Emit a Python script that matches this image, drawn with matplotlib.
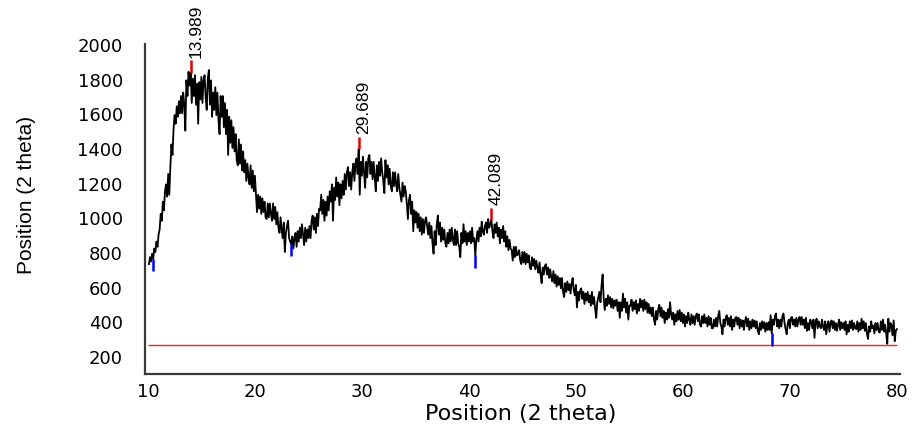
import numpy as np
import matplotlib.pyplot as plt

# XRD scan, 0.1 deg step starting at 10.089 (one row per degree)
start = 10.089
step = 0.1
counts = [
    730, 770, 745, 790, 760, 820, 800, 860, 830, 900,
    930, 1020, 980, 1090, 1040, 1150, 1190, 1120, 1250, 1130,
    1290, 1420, 1360, 1510, 1590, 1540, 1640, 1580, 1670, 1600,
    1700, 1600, 1720, 1650, 1500, 1790, 1700, 1840, 1760, 1835,
    1660, 1800, 1700, 1820, 1650, 1770, 1540, 1780, 1680, 1810,
    1660, 1790, 1820, 1690, 1620, 1800, 1850, 1650, 1790, 1580,
    1720, 1620, 1750, 1590, 1720, 1560, 1480, 1700, 1580, 1700,
    1520, 1660, 1480, 1620, 1360, 1580, 1430, 1560, 1400, 1520,
    1380, 1480, 1330, 1300, 1450, 1310, 1420, 1270, 1380, 1260,
    1330, 1210, 1310, 1230, 1190, 1300, 1170, 1270, 1150, 1240,
    1140, 1030, 1130, 1050, 1120, 1020, 1110, 1030, 1090, 1000,
    990, 1080, 1000, 1080, 1020, 980, 1080, 990, 1060, 960,
    1030, 940, 910, 1000, 930, 880, 970, 800, 910, 950,
    980, 880, 860, 845, 890, 820, 880, 910, 830, 920,
    860, 940, 880, 960, 900, 840, 940, 860, 930, 880,
    950, 880, 980, 1010, 930, 1000, 910, 1020, 950, 1050,
    1040, 1130, 1020, 1100, 980, 1090, 1010, 1120, 1040, 1150,
    1090, 1190, 980, 1170, 1100, 1230, 1120, 1200, 1070, 1190,
    1110, 1210, 1130, 1250, 1160, 1260, 1290, 1180, 1260, 1160,
    1260, 1310, 1210, 1310, 1340, 1250, 1394, 1130, 1320, 1240,
    1350, 1260, 1170, 1320, 1230, 1340, 1360, 1250, 1320, 1220,
    1320, 1230, 1150, 1300, 1210, 1320, 1240, 1340, 1260, 1210,
    1140, 1330, 1230, 1300, 1190, 1280, 1180, 1150, 1260, 1180,
    1260, 1190, 1150, 1250, 1170, 1130, 1090, 1200, 1120, 1180,
    1150, 1080, 990, 1100, 1130, 1020, 1090, 920, 1040, 970,
    1030, 940, 1020, 920, 1000, 900, 990, 910, 980, 1000,
    950, 900, 970, 880, 950, 850, 790, 920, 840, 960,
    1010, 900, 970, 860, 940, 870, 930, 850, 830, 910,
    850, 930, 860, 940, 870, 840, 930, 840, 920, 850,
    830, 770, 910, 850, 960, 860, 920, 840, 910, 860,
    920, 850, 940, 860, 880, 780, 870, 920, 860, 940,
    890, 975, 920, 900, 950, 970, 910, 990, 940, 960,
    985, 920, 880, 960, 910, 970, 890, 940, 850, 930,
    880, 950, 860, 920, 830, 890, 810, 870, 820, 810,
    750, 830, 770, 830, 780, 790, 810, 750, 730, 800,
    740, 800, 730, 790, 740, 780, 710, 700, 770, 720,
    760, 700, 750, 710, 680, 740, 670, 620, 710, 670,
    720, 730, 670, 710, 650, 700, 655, 630, 690, 620,
    670, 600, 660, 610, 650, 590, 650, 570, 540, 620,
    570, 630, 580, 615, 560, 620, 650, 580, 550, 610,
    480, 570, 520, 580, 590, 530, 570, 500, 560, 520,
    570, 510, 550, 490, 570, 500, 540, 470, 420, 510,
    540, 570, 510, 610, 670, 530, 465, 530, 490, 550,
    500, 540, 480, 530, 475, 520, 490, 525, 460, 510,
    420, 510, 460, 560, 480, 530, 450, 510, 410, 490,
    490, 525, 460, 510, 470, 520, 445, 500, 460, 530,
    480, 520, 460, 525, 470, 510, 450, 500, 445, 480,
    430, 480, 410, 380, 460, 410, 470, 495, 430, 480,
    420, 460, 390, 450, 410, 470, 420, 510, 440, 410,
    450, 380, 440, 400, 460, 410, 465, 400, 450, 390,
    440, 370, 430, 390, 450, 410, 380, 440, 390, 430,
    380, 430, 445, 400, 440, 380, 370, 430, 390, 440,
    390, 420, 370, 430, 380, 420, 360, 360, 410, 370,
    420, 370, 430, 460, 390, 370, 325, 410, 370, 420,
    435, 380, 420, 370, 430, 350, 410, 370, 420, 425,
    380, 420, 360, 410, 370, 405, 350, 400, 425, 370,
    415, 350, 400, 360, 410, 370, 405, 360, 400, 345,
    325, 390, 350, 400, 360, 395, 340, 390, 350, 395,
    350, 435, 330, 410, 380, 430, 445, 370, 410, 360,
    410, 370, 430, 445, 390, 355, 325, 390, 410, 360,
    420, 425, 380, 410, 370, 420, 370, 410, 425, 380,
    425, 380, 410, 360, 420, 345, 390, 350, 410, 395,
    360, 410, 305, 400, 415, 360, 400, 370, 360, 410,
    370, 350, 400, 325, 380, 400, 340, 390, 405, 360,
    400, 350, 390, 345, 380, 410, 350, 395, 360, 390,
    350, 400, 325, 380, 340, 400, 360, 405, 350, 390,
    360, 355, 400, 340, 390, 350, 415, 360, 400, 345,
    390, 330, 298, 370, 340, 400, 360, 375, 330, 390,
    350, 390, 340, 335, 400, 350, 410, 340, 380, 330,
    270, 415, 340, 390, 375, 320, 405, 285, 345, 355,
]
two_theta = start + step * np.arange(len(counts))
counts = np.array(counts, dtype=float)

# peak search results
peak_pos = [13.989, 29.689, 42.089]
bg_pos = [10.489, 23.389, 40.589, 68.289]
baseline = 263
baseline_range = [10, 80]

fig = plt.figure(figsize=(9.14, 4.31), dpi=100)
ax = fig.add_axes([145 / 914, 56 / 431, 755 / 914, 330 / 431])

ax.plot(two_theta, counts, color='black', lw=1.3)
ax.hlines(baseline, baseline_range[0], baseline_range[1], color='#ff2020', lw=1.0)

for p in peak_pos:
    i = int(round((p - start) / step))
    ax.vlines(p, counts[i], counts[i] + 70, color='#e00000', lw=1.8)
    ax.text(p - 0.22, counts[i] + 90, '%.3f' % p, rotation=90,
            ha='left', va='bottom', fontsize=12.5, family='Liberation Sans')

for b in bg_pos:
    i = int(round((b - start) / step))
    ax.vlines(b, counts[i] - 70, counts[i], color='#0000ff', lw=1.8)

ax.set_xlim(9.72, 80.28)
ax.set_ylim(96, 2000)
ax.set_xticks(range(10, 81, 10))
ax.set_yticks(range(200, 2001, 200))

for s in ['top', 'right']:
    ax.spines[s].set_visible(False)
for s in ['left', 'bottom']:
    ax.spines[s].set_color('#3a3a3a')
    ax.spines[s].set_linewidth(1.6)

ax.tick_params(axis='both', length=0, labelsize=13)
ax.tick_params(axis='y', pad=16)
ax.tick_params(axis='x', pad=6)
for lab in ax.get_xticklabels() + ax.get_yticklabels():
    lab.set_family('DejaVu Sans')

ax.set_xlabel('Position (2 theta)', fontsize=16, family='DejaVu Sans')
ax.xaxis.set_label_coords(0.497, -0.088)
ax.set_ylabel('Position (2 theta)', fontsize=15, family='Liberation Sans')
ax.yaxis.set_label_coords(-0.145, 0.545)

plt.savefig('out.png', dpi=100)
